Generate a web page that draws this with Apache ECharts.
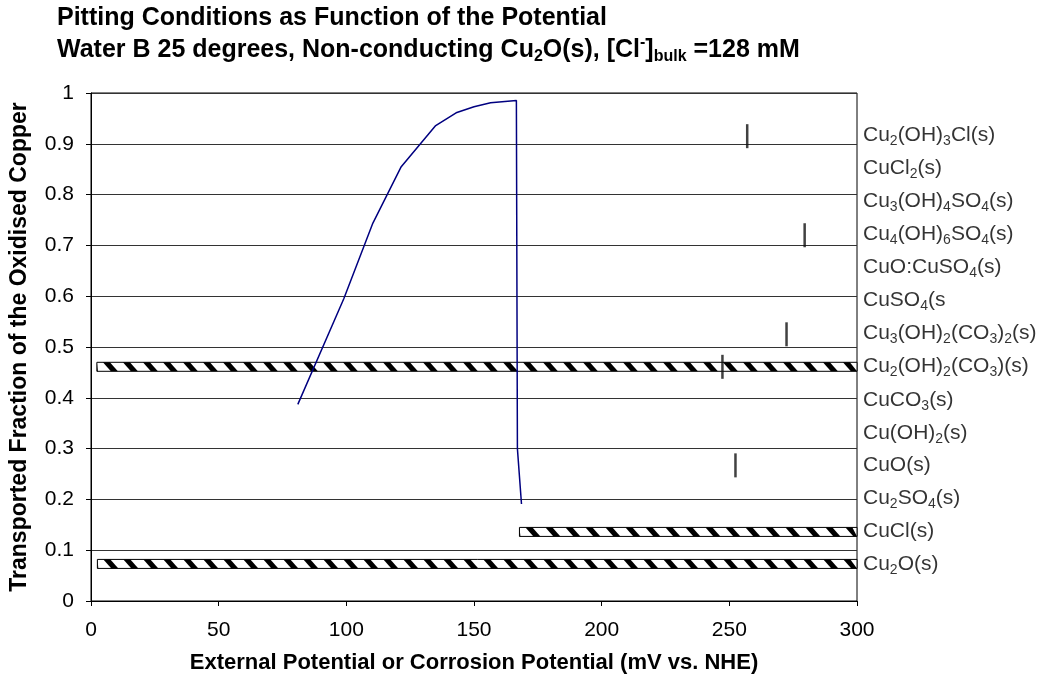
<!DOCTYPE html>
<html>
<head>
<meta charset="utf-8">
<script src="https://cdn.jsdelivr.net/npm/echarts@6/dist/echarts.min.js"></script>
<style>
  html, body { margin: 0; padding: 0; background: #fff; }
  #chart { width: 1047px; height: 680px; }
</style>
</head>
<body>
<div id="chart"></div>
<script>
// blue curve: transported fraction vs potential
const potential = [81, 99, 110.4, 121.5, 135, 143, 150, 156.5, 166.6, 167, 168.6];
const fraction = [0.387, 0.595, 0.744, 0.855, 0.936, 0.961, 0.973, 0.981, 0.985, 0.30, 0.191];

// hatched stability ranges: [from, to, level]
const barFrom = [2.5, 167.8, 2.3];
const barTo = [300, 300, 300];
const barLevel = [0.073, 0.136, 0.461];

// short vertical marks
const markX = [257, 279.5, 272.4, 247.3, 252.4];
const markY = [0.915, 0.72, 0.525, 0.461, 0.267];

// right-hand phase labels
const phaseNames = [
  'Cu{s|2}(OH){s|3}Cl(s)', 'CuCl{s|2}(s)', 'Cu{s|3}(OH){s|4}SO{s|4}(s)', 'Cu{s|4}(OH){s|6}SO{s|4}(s)',
  'CuO:CuSO{s|4}(s)', 'CuSO{s|4}(s', 'Cu{s|3}(OH){s|2}(CO{s|3}){s|2}(s)', 'Cu{s|2}(OH){s|2}(CO{s|3})(s)',
  'CuCO{s|3}(s)', 'Cu(OH){s|2}(s)', 'CuO(s)', 'Cu{s|2}SO{s|4}(s)', 'CuCl(s)', 'Cu{s|2}O(s)'
];
const phaseY = [0.917, 0.852, 0.787, 0.722, 0.657, 0.592, 0.527, 0.462, 0.396, 0.331, 0.268, 0.203, 0.138, 0.073];

const xTicks = { min: 0, max: 300, interval: 50 };
const yTicks = { min: 0, max: 1, interval: 0.1 };

const font = 'Liberation Sans, Arial, sans-serif';
const chart = echarts.init(document.getElementById('chart'));

function hatchBar(params, api) {
  const a = api.coord([api.value(0), api.value(2)]);
  const b = api.coord([api.value(1), api.value(2)]);
  const h = 9;
  const left = a[0], right = b[0], top = a[1] - h / 2, bottom = top + h;
  const cl = v => Math.max(left, Math.min(right, v));
  const children = [{
    type: 'rect',
    shape: { x: left, y: top, width: right - left, height: h },
    style: { fill: '#fff' }
  }];
  for (let x0 = left - 14; x0 < right; x0 += 20) {
    children.push({
      type: 'polygon',
      shape: { points: [[cl(x0), top], [cl(x0 + 7), top], [cl(x0 + 15), bottom], [cl(x0 + 8), bottom]] },
      style: { fill: '#000' }
    });
  }
  children.push({
    type: 'rect',
    shape: { x: left, y: top, width: right - left, height: h },
    style: { fill: 'none', stroke: '#000', lineWidth: 1 }
  });
  return { type: 'group', children };
}

const subRich = {
  s: { fontSize: 14, fontFamily: font, color: '#000', verticalAlign: 'bottom', lineHeight: 26 },
  p: { fontSize: 14, fontFamily: font, color: '#000', verticalAlign: 'top', lineHeight: 26 }
};

chart.setOption({
  animation: false,
  backgroundColor: '#fff',
  title: [{
    text: 'Pitting Conditions as Function of the Potential',
    left: 52, top: 1,
    textStyle: { fontSize: 25, fontWeight: 'bold', fontFamily: font, color: '#000' }
  }, {
    text: 'Water B 25 degrees, Non-conducting Cu{s|2}O(s), [Cl{p|-}]{s|bulk} =128 mM',
    left: 52, top: 30,
    textStyle: {
      fontSize: 25, fontWeight: 'bold', fontFamily: font, color: '#000', lineHeight: 30,
      rich: {
        s: { fontSize: 16, fontWeight: 'bold', fontFamily: font, color: '#000', verticalAlign: 'bottom', lineHeight: 30 },
        p: { fontSize: 16, fontWeight: 'bold', fontFamily: font, color: '#000', verticalAlign: 'top', lineHeight: 30 }
      }
    }
  }],
  grid: { left: 90, right: 190, top: 93, bottom: 79, show: true, borderColor: '#000', borderWidth: 1 },
  xAxis: {
    type: 'value', min: xTicks.min, max: xTicks.max, interval: xTicks.interval,
    name: 'External Potential or Corrosion Potential (mV vs. NHE)',
    nameLocation: 'middle', nameGap: 51,
    nameTextStyle: { fontSize: 22, fontWeight: 'bold', fontFamily: font, color: '#000' },
    axisLine: { lineStyle: { color: '#000' } },
    axisTick: { length: 5, lineStyle: { color: '#000' } },
    axisLabel: { fontSize: 21, fontFamily: font, color: '#000', margin: 19 },
    splitLine: { show: false }
  },
  yAxis: {
    type: 'value', min: yTicks.min, max: yTicks.max, interval: yTicks.interval,
    name: 'Transported Fraction of the Oxidised Copper',
    nameLocation: 'middle', nameGap: 60,
    nameTextStyle: { fontSize: 23, fontWeight: 'bold', fontFamily: font, color: '#000' },
    axisLine: { show: true, lineStyle: { color: '#000' } },
    axisTick: { show: true, length: 5, lineStyle: { color: '#000' } },
    axisLabel: { fontSize: 21, fontFamily: font, color: '#000', margin: 17 },
    splitLine: { lineStyle: { color: '#333', width: 1 } }
  },
  series: [{
    type: 'custom',
    renderItem: hatchBar,
    encode: { x: [0, 1], y: 2 },
    data: barFrom.map((f, i) => [f, barTo[i], barLevel[i]]),
    z: 2
  }, {
    type: 'line',
    data: potential.map((x, i) => [x, fraction[i]]),
    symbol: 'none',
    lineStyle: { color: '#000080', width: 1.5 },
    z: 3
  }, {
    type: 'scatter',
    data: markX.map((x, i) => [x, markY[i]]),
    symbol: 'rect',
    symbolSize: [2.5, 24],
    itemStyle: { color: '#111' },
    z: 4
  }, {
    type: 'scatter',
    data: phaseY.map((y, i) => ({ value: [300, y], name: phaseNames[i] })),
    symbolSize: 0,
    clip: false,
    silent: true,
    label: {
      show: true, position: 'right', distance: 6,
      formatter: p => p.name,
      fontSize: 21, fontFamily: font, color: '#000', lineHeight: 26,
      rich: subRich
    },
    z: 5
  }]
});
</script>
</body>
</html>
